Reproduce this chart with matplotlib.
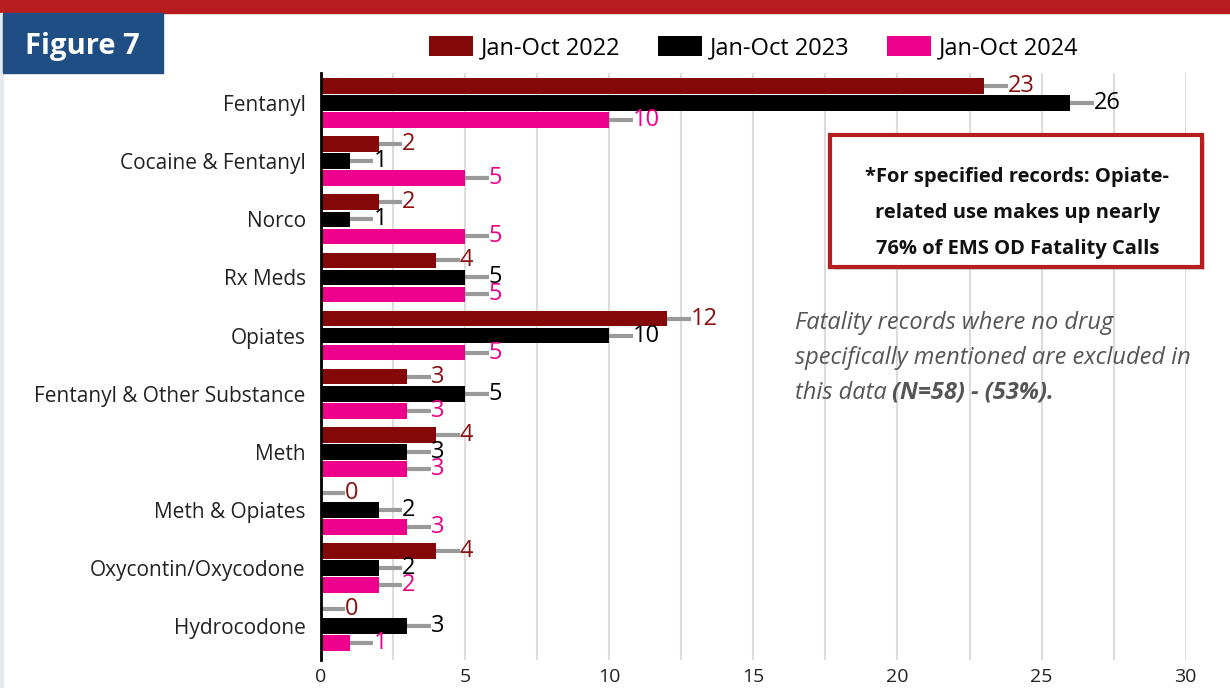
import matplotlib.pyplot as plt
from matplotlib.patches import Rectangle
import numpy as np

plt.rcParams['font.family'] = ['Open Sans', 'DejaVu Sans']

# Data
drugs = ['Fentanyl', 'Cocaine & Fentanyl', 'Norco', 'Rx Meds', 'Opiates',
         'Fentanyl & Other Substance', 'Meth', 'Meth & Opiates',
         'Oxycontin/Oxycodone', 'Hydrocodone']
y2022 = [23, 2, 2, 4, 12, 3, 4, 0, 4, 0]
y2023 = [26, 1, 1, 5, 10, 5, 3, 2, 2, 3]
y2024 = [10, 5, 5, 5, 5, 3, 3, 3, 2, 1]
series_names = ['Jan-Oct 2022', 'Jan-Oct 2023', 'Jan-Oct 2024']
x_ticks = [0, 5, 10, 15, 20, 25, 30]

colors = ['#850808', '#000000', '#EC008C']
label_colors = ['#8B1010', '#000000', '#EC008C']

fig = plt.figure(figsize=(12.3, 6.88), dpi=100)
ax = fig.add_axes([0.261, 0.041, 0.703, 0.853])

ypos = np.arange(len(drugs))
offsets = [-0.293, 0, 0.293]
bar_h = 0.27
conn = 0.82  # length of the leader line in data units

for vals, off, c, lc, name in zip([y2022, y2023, y2024], offsets, colors,
                                   label_colors, series_names):
    ax.barh(ypos + off, vals, height=bar_h, color=c, label=name, zorder=3)
    for y, v in zip(ypos + off, vals):
        ax.plot([v, v + conn], [y, y], color='#9a9a9a', lw=3,
                solid_capstyle='butt', zorder=2)
        ax.text(v + conn, y, str(v), color=lc, fontsize=17, va='center',
                ha='left', zorder=4)

ax.set_xlim(0, 30)
ax.set_ylim(9.58, -0.52)
ax.set_yticks(ypos)
ax.set_yticklabels(drugs, fontsize=15, color='#222222')
ax.set_xticks(x_ticks)
ax.set_xticks(np.arange(0, 30.1, 2.5), minor=True)
ax.tick_params(axis='x', which='both', length=0, labelsize=14, pad=6,
               labelcolor='#222222')
ax.tick_params(axis='y', length=0, pad=11)
ax.grid(axis='x', which='both', color='#dcdcdc', lw=1.5, zorder=0)
for s in ['top', 'right', 'bottom']:
    ax.spines[s].set_visible(False)
ax.spines['left'].set_linewidth(2)
ax.spines['left'].set_zorder(5)

# legend
fig.legend(loc='center', bbox_to_anchor=(0.613, 0.930), ncol=3, frameon=False,
           fontsize=17, handlelength=1.85, handleheight=0.95, columnspacing=1.6,
           handletextpad=0.34)

# header bar, side strip and figure label
fig.patches.append(Rectangle((0, 0.981), 1, 0.019, transform=fig.transFigure,
                             color='#B71C1E', zorder=0))
fig.patches.append(Rectangle((0, 0), 0.0025, 0.981, transform=fig.transFigure,
                             color='#e6eaee', zorder=0))
fig.patches.append(Rectangle((0.0025, 0.894), 0.130, 0.087,
                             transform=fig.transFigure, color='#1F4E84'))
fig.text(0.067, 0.932, 'Figure 7', color='white', fontsize=21,
         fontweight='bold', ha='center', va='center')

# callout box
fig.patches.append(Rectangle((0.678, 0.608), 0.302, 0.192,
                             transform=fig.transFigure, facecolor='#bbbbbb',
                             edgecolor='none', zorder=5, alpha=0.6))
fig.patches.append(Rectangle((0.675, 0.612), 0.302, 0.192,
                             transform=fig.transFigure, facecolor='white',
                             edgecolor='#B71C1E', lw=3, zorder=6))
box_lines = ['*For specified records: Opiate-', 'related use makes up nearly',
             '76% of EMS OD Fatality Calls']
for i, line in enumerate(box_lines):
    fig.text(0.827, 0.743 - i * 0.0525, line, fontsize=14.5, fontweight='bold',
             ha='center', va='center', zorder=7, color='#111111')

# note
note_color = '#555555'
fig.text(0.646, 0.531, 'Fatality records where no drug', fontsize=17,
         style='italic', color=note_color, va='center')
fig.text(0.646, 0.480, 'specifically mentioned are excluded in',
         fontsize=17, style='italic', color=note_color, va='center')
t = fig.text(0.646, 0.429, 'this data ', fontsize=17, style='italic',
             color=note_color, va='center')
ax.annotate('(N=58) - (53%).', xy=(1, 0.5), xycoords=t, va='center',
            fontsize=17, style='italic', fontweight='bold', color=note_color)

fig.savefig('out.png', dpi=100)
